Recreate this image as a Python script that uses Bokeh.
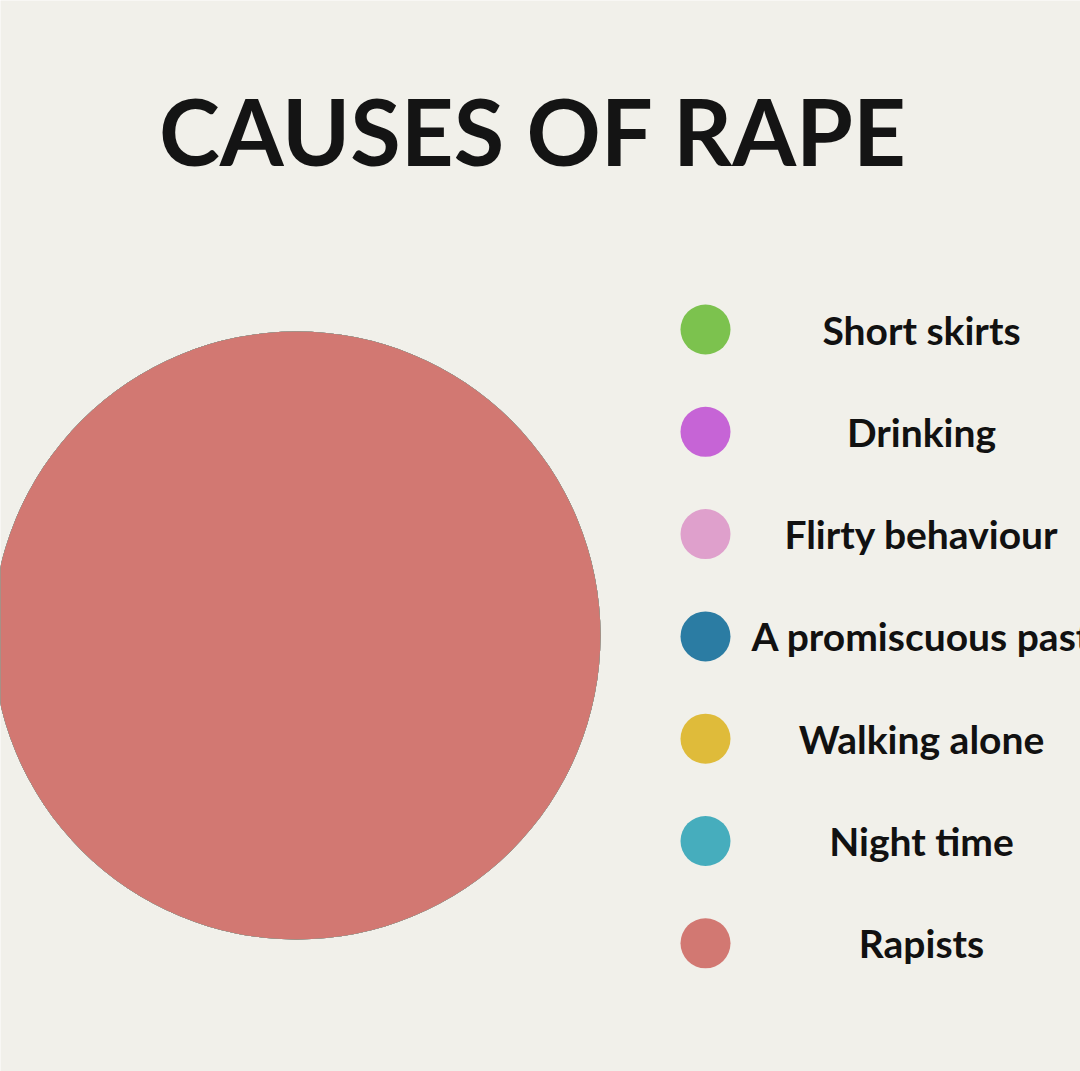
from bokeh.plotting import figure
from bokeh.models import Range1d, ColumnDataSource
from bokeh.core.properties import value
from bokeh.embed import file_html
from bokeh.resources import INLINE
import numpy as np

title = "CAUSES OF RAPE"
categories = ["Short skirts", "Drinking", "Flirty behaviour", "A promiscuous past",
              "Walking alone", "Night time", "Rapists"]
shares = [0, 0, 0, 0, 0, 0, 100]
colors = ["#7cc24e", "#c664d6", "#dfa0cc", "#2b7ca3", "#dfbb3a", "#46adbd", "#d27872"]

W, H = 1080, 1071
BG = "#f1f0ea"

p = figure(width=W, height=H, output_backend="svg", toolbar_location=None,
           x_range=Range1d(0, W), y_range=Range1d(H, 0), min_border=0,
           background_fill_color=BG, border_fill_color=BG, outline_line_color=None)
p.axis.visible = False
p.grid.visible = False

# pie
vals = np.array(shares, dtype=float)
frac = vals / vals.sum()
ends = np.cumsum(frac) * 2 * np.pi
starts = ends - frac * 2 * np.pi
pie = ColumnDataSource(dict(start=starts, end=ends, color=colors))
p.wedge(x=296, y=635, radius=304, start_angle="start", end_angle="end",
        fill_color="color", line_color=None, source=pie, direction="anticlock")

# legend
n = len(categories)
ly = 329 + np.arange(n) * 102.3
leg = ColumnDataSource(dict(y=ly, color=colors, label=categories))
p.scatter(x=705, y="y", size=50, fill_color="color", line_color=None, source=leg)
p.text(x=921, y="y", text="label", source=leg, text_font=value("Lato"),
       text_font_style="bold", text_font_size="39px", text_align="center",
       text_baseline="middle", text_color="#111111")

# title
p.text(x=[533], y=[130], text=[title], text_font=value("Lato"),
       text_font_style="bold", text_font_size="92px", text_align="center",
       text_baseline="middle", text_color="#141414")

open("out.html", "w").write(file_html(p, INLINE))
